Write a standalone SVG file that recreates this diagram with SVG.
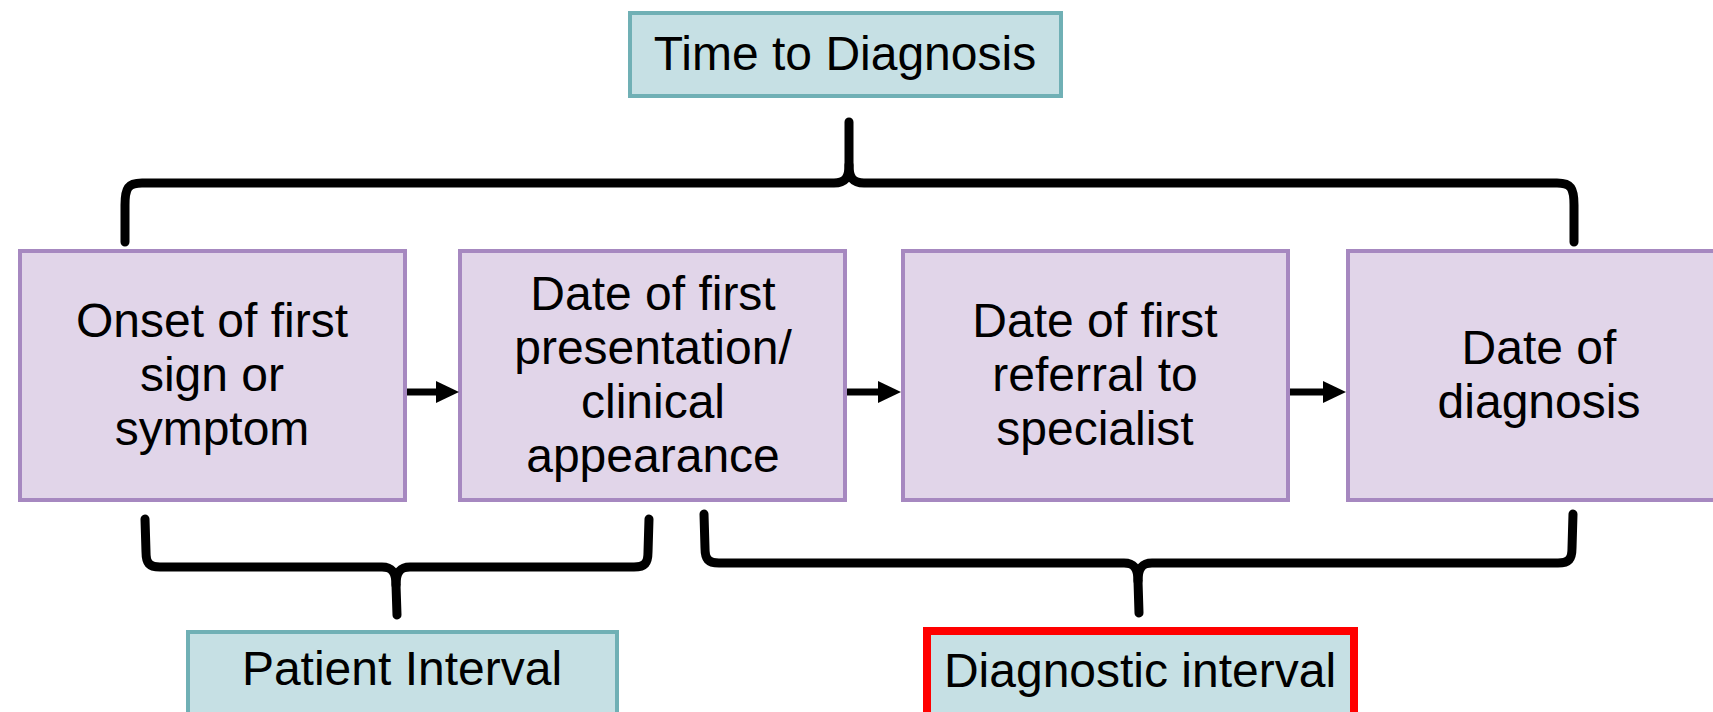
<svg xmlns="http://www.w3.org/2000/svg" width="1713" height="712" viewBox="0 0 1713 712">
  <style>
    .step { fill: #e1d5e9; stroke: #a688c0; stroke-width: 4; }
    .span { fill: #c6e0e4; stroke: #70b0b5; stroke-width: 4; }
    .span-hl { fill: #c6e0e4; stroke: #ff0000; stroke-width: 8; }
    .lbl { font-family: "Liberation Sans", Arial, sans-serif; font-size: 48px; fill: #000; text-anchor: middle; }
    .brace { fill: none; stroke: #000; stroke-width: 9; stroke-linecap: round; stroke-linejoin: round; }
    .flow { stroke: #000; stroke-width: 7; }
  </style>
  <defs>
    <marker id="head" markerUnits="userSpaceOnUse" markerWidth="23" markerHeight="22" refX="0" refY="11" orient="auto">
      <path d="M0,0 L23,11 L0,22 z" fill="#000"/>
    </marker>
  </defs>
  <rect width="1713" height="712" fill="#fff"/>

  <!-- summary label at the top -->
  <g id="time-to-diagnosis">
    <rect class="span" x="630" y="13" width="431" height="83"/>
    <text class="lbl" x="845" y="70">Time to Diagnosis</text>
  </g>

  <!-- pathway steps -->
  <g id="onset">
    <rect class="step" x="20" y="251" width="385" height="249"/>
    <text class="lbl" x="212" y="337">Onset of first</text>
    <text class="lbl" x="212" y="391">sign or</text>
    <text class="lbl" x="212" y="445">symptom</text>
  </g>
  <g id="first-presentation">
    <rect class="step" x="460" y="251" width="385" height="249"/>
    <text class="lbl" x="653" y="310">Date of first</text>
    <text class="lbl" x="653" y="364">presentation/</text>
    <text class="lbl" x="653" y="418">clinical</text>
    <text class="lbl" x="653" y="472">appearance</text>
  </g>
  <g id="first-referral">
    <rect class="step" x="903" y="251" width="385" height="249"/>
    <text class="lbl" x="1095" y="337">Date of first</text>
    <text class="lbl" x="1095" y="391">referral to</text>
    <text class="lbl" x="1095" y="445">specialist</text>
  </g>
  <g id="diagnosis">
    <rect class="step" x="1348" y="251" width="385" height="249"/>
    <text class="lbl" x="1539" y="364">Date of</text>
    <text class="lbl" x="1539" y="418">diagnosis</text>
  </g>

  <!-- interval labels -->
  <g id="patient-interval">
    <rect class="span" x="188" y="632" width="429" height="100"/>
    <text class="lbl" x="402" y="685">Patient Interval</text>
  </g>
  <g id="diagnostic-interval">
    <rect class="span-hl" x="927" y="631" width="427" height="100"/>
    <text class="lbl" x="1140" y="687">Diagnostic interval</text>
  </g>

  <!-- arrows and braces -->
  <g id="connectors">
    <line class="flow" x1="407" y1="392" x2="436" y2="392" marker-end="url(#head)"/>
    <line class="flow" x1="847" y1="392" x2="878" y2="392" marker-end="url(#head)"/>
    <line class="flow" x1="1290" y1="392" x2="1323" y2="392" marker-end="url(#head)"/>

    <!-- overall span brace -->
    <path class="brace" d="M125,242 L125,205 C125,188 128,183 142,183 L834,183 C845,183 849,178 849,165 L849,122"/>
    <path class="brace" d="M1574,242 L1574,205 C1574,188 1571,183 1557,183 L864,183 C853,183 849,178 849,165"/>

    <!-- patient interval brace -->
    <path class="brace" d="M145,519 L146,552 C146,563 149,567 160,567 L382,567 C392,567 396,572 396,585 L397,615"/>
    <path class="brace" d="M649,519 L648,552 C648,563 645,567 634,567 L410,567 C400,567 396,572 396,585"/>

    <!-- diagnostic interval brace -->
    <path class="brace" d="M704,514 L705,548 C705,559 708,563 719,563 L1124,563 C1134,563 1138,568 1138,581 L1139,613"/>
    <path class="brace" d="M1573,514 L1572,548 C1572,559 1569,563 1558,563 L1152,563 C1142,563 1138,568 1138,581"/>
  </g>
</svg>
